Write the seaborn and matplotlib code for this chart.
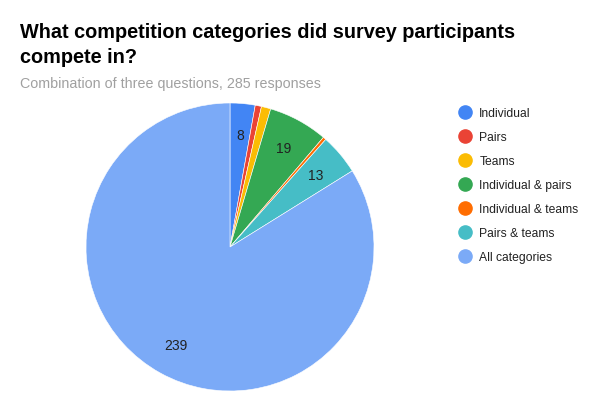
import matplotlib
matplotlib.use("Agg")
import matplotlib.pyplot as plt
from matplotlib.lines import Line2D
import seaborn as sns

# data
categories = ["Individual", "Pairs", "Teams", "Individual & pairs",
              "Individual & teams", "Pairs & teams", "All categories"]
counts = [8, 2, 3, 19, 1, 13, 239]
colors = ["#4285f4", "#ea4335", "#fbbc04", "#34a853",
          "#ff6d01", "#46bdc6", "#7baaf7"]

sns.set_theme(style="white")
plt.rcParams["font.family"] = ["Liberation Sans", "DejaVu Sans"]

palette = sns.color_palette(colors)
total = sum(counts)

def label_value(pct):
    val = int(round(pct * total / 100.0))
    return str(val) if val >= 5 else ""

fig = plt.figure(figsize=(6, 4.14), dpi=100)
ax = fig.add_axes([86 / 600, 22 / 414, 288 / 600, 288 / 414])
wedges, texts, autotexts = ax.pie(
    counts,
    colors=palette,
    startangle=90,
    counterclock=False,
    autopct=label_value,
    pctdistance=0.78,
    wedgeprops={"edgecolor": "white", "linewidth": 0.4},
    textprops={"fontsize": 10, "color": "#222222"},
)
ax.set_xlim(-1, 1)
ax.set_ylim(-1, 1)
ax.set_aspect("equal")

fig.text(20 / 600, 1 - 23 / 414,
         "What competition categories did survey participants\ncompete in?",
         fontsize=14.3, fontweight="bold", color="#000000", va="top",
         linespacing=1.4)
fig.text(20 / 600, 1 - 84 / 414, "Combination of three questions, 285 responses",
         fontsize=10.3, color="#a0a0a0", va="center")

handles = [Line2D([0], [0], marker="o", linestyle="", markersize=9.5,
                  markerfacecolor=c, markeredgecolor=c) for c in colors]
fig.legend(handles, categories, loc="upper left",
           bbox_to_anchor=(454 / 600, 1 - 103 / 414), frameon=False,
           fontsize=8.7, labelspacing=1.0, handletextpad=0.7,
           handlelength=1.0, borderaxespad=0, labelcolor="#222222")

fig.savefig("out.png", dpi=100)
